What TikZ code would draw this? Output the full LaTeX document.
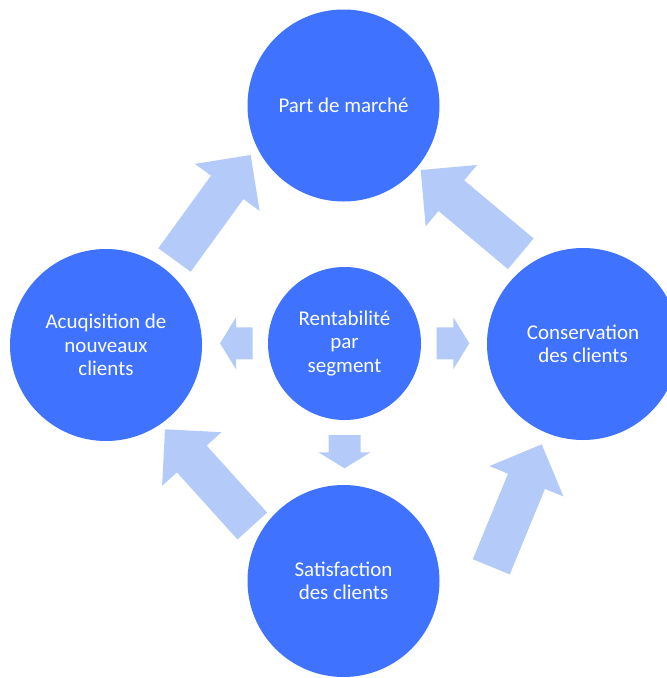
\documentclass[tikz,border=0pt]{standalone}
\usepackage{fontspec}
\setmainfont{Carlito}
\usetikzlibrary{calc}

\definecolor{discblue}{RGB}{62,114,255}
\definecolor{arrowblue}{RGB}{180,203,250}

% Block arrow from tail #1 to tip #2: shaft half-width #3, head half-width #4, head length #5
\newcommand\flowarrow[5]{%
  \coordinate (fa-base) at ($(#2)!#5!(#1)$);
  \fill[arrowfill]
    ($(#1)!#3!90:(#2)$) -- ($(fa-base)!#3!90:(#2)$) -- ($(fa-base)!#4!90:(#2)$)
    -- (#2)
    -- ($(fa-base)!#4!-90:(#2)$) -- ($(fa-base)!#3!-90:(#2)$) -- ($(#1)!#3!-90:(#2)$)
    -- cycle;
}

\begin{document}
\begin{tikzpicture}[x=1pt,y=-1pt,
  disc/.style={circle, fill=discblue, inner sep=0pt, minimum size=#1, text=white,
    align=center, font=\fontsize{21}{23.5}\selectfont},
  disc/.default=192pt,
  arrowfill/.style={fill=arrowblue}]
\useasboundingbox (0,0) rectangle (667,678);
\clip (0,0) rectangle (667,678);

% outer cycle arrows
\coordinate (a1t) at (174.5,260);   \coordinate (a1p) at (250.7,155);
\coordinate (a2t) at (520.8,253.8); \coordinate (a2p) at (420.7,170);
\coordinate (a3t) at (252.3,526);   \coordinate (a3p) at (165,429.3);
\coordinate (a4t) at (491.3,566.8); \coordinate (a4p) at (541.7,444.3);
\flowarrow{a1t}{a1p}{20pt}{40pt}{40pt}
\flowarrow{a2t}{a2p}{20pt}{40pt}{40pt}
\flowarrow{a3t}{a3p}{20pt}{40pt}{40pt}
\flowarrow{a4t}{a4p}{20pt}{40pt}{40pt}

% small arrows leaving the centre
\coordinate (slt) at (252.7,343.3); \coordinate (slp) at (220,343.3);
\coordinate (srt) at (436.7,343.3); \coordinate (srp) at (469.3,343.3);
\coordinate (sdt) at (344.5,435);   \coordinate (sdp) at (344.5,468.3);
\flowarrow{slt}{slp}{16pt}{26pt}{16pt}
\flowarrow{srt}{srp}{16pt}{26pt}{16pt}
\flowarrow{sdt}{sdp}{16pt}{26pt}{16pt}

% discs
\node[disc] (market) at (343.5,105.5) {Part de marché};
\node[disc] (acq) at (106,345) {Acuqisition de\\nouveaux\\clients};
\node[disc] (keep) at (583,344) {Conservation\\des clients};
\node[disc] (sat) at (343.5,581) {Satisfaction\\des clients};
\node[disc=153pt] (profit) at (344.5,343.5) {Rentabilité\\par\\segment};
\end{tikzpicture}
\end{document}
